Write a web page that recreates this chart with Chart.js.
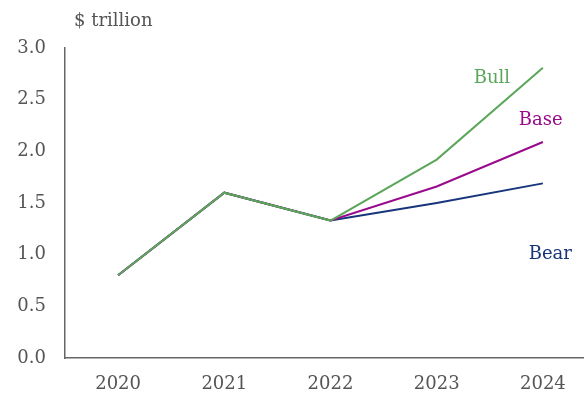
<!DOCTYPE html>
<html>
<head>
<meta charset="utf-8">
<script src="https://cdn.jsdelivr.net/npm/chart.js@4.4.1/dist/chart.umd.min.js"></script>
<style>
  body { margin: 0; overflow: hidden; background: #fff; }
  #wrap { position: relative; width: 600px; height: 396px; }
</style>
</head>
<body>
<div id="wrap"><canvas id="projChart"></canvas></div>
<script>
        // Data
        const years = ['2020', '2021', '2022', '2023', '2024'];
        const bullValues = [0.80, 1.60, 1.33, 1.92, 2.81];
        const baseValues = [0.80, 1.60, 1.33, 1.66, 2.09];
        const bearValues = [0.80, 1.60, 1.33, 1.50, 1.69];
        const yTicks = [0.0, 0.5, 1.0, 1.5, 2.0, 2.5, 3.0];

        const FONT = '"DejaVu Serif", "Liberation Serif", serif';
        const GREEN = '#5aa75a';
        const PURPLE = '#990a8c';
        const NAVY = '#17357a';
        const TEXT = '#555555';
        const AXIS = '#666666';

        // series labels placed in data space (category index, value)
        const seriesLabels = [
            { text: 'Bull', at: [3.52, 2.71], color: GREEN },
            { text: 'Base', at: [3.98, 2.30], color: PURPLE },
            { text: 'Bear', at: [4.07, 1.00], color: NAVY }
        ];

        const labelPlugin = {
            id: 'labelPlugin',
            afterDatasetsDraw(chart) {
                const c = chart.ctx;
                const xs = chart.scales.x, ys = chart.scales.y;
                c.save();
                c.font = '18px ' + FONT;
                c.textAlign = 'center';
                c.textBaseline = 'middle';
                seriesLabels.forEach(l => {
                    c.fillStyle = l.color;
                    c.fillText(l.text, xs.getPixelForValue(l.at[0]), ys.getPixelForValue(l.at[1]));
                });
                // unit label
                c.fillStyle = TEXT;
                c.textAlign = 'left';
                c.textBaseline = 'alphabetic';
                c.fillText('$ trillion', chart.chartArea.left + 9, 26);
                c.restore();
            }
        };

        function lineSet(label, data, color) {
            return {
                label: label,
                data: data,
                borderColor: color,
                backgroundColor: color,
                borderWidth: 2,
                pointRadius: 0,
                tension: 0,
                fill: false
            };
        }

        const ctx = document.getElementById('projChart').getContext('2d');
        const projChart = new Chart(ctx, {
            type: 'line',
            data: {
                labels: years,
                datasets: [
                    lineSet('Bull', bullValues, GREEN),
                    lineSet('Base', baseValues, PURPLE),
                    lineSet('Bear', bearValues, NAVY)
                ]
            },
            options: {
                responsive: true,
                maintainAspectRatio: false,
                animation: false,
                layout: { padding: { top: 48, right: 4, left: 0, bottom: 0 } },
                plugins: {
                    legend: { display: false },
                    tooltip: { enabled: false }
                },
                scales: {
                    x: {
                        offset: true,
                        grid: { display: false, drawTicks: false },
                        border: { display: true, color: AXIS, width: 1.5 },
                        ticks: { color: TEXT, font: { family: FONT, size: 18 }, padding: 16, maxRotation: 0 },
                        afterFit: s => { s.height = 38; }
                    },
                    y: {
                        min: 0,
                        max: 3,
                        afterBuildTicks: s => { s.ticks = yTicks.map(v => ({ value: v })); },
                        grid: { display: false, drawTicks: false },
                        border: { display: true, color: AXIS, width: 1.5 },
                        ticks: {
                            color: TEXT,
                            font: { family: FONT, size: 18 },
                            padding: 19,
                            callback: v => Number(v).toFixed(1)
                        },
                        afterFit: s => { s.width = 65; }
                    }
                }
            },
            plugins: [labelPlugin]
        });
</script>
</body>
</html>
